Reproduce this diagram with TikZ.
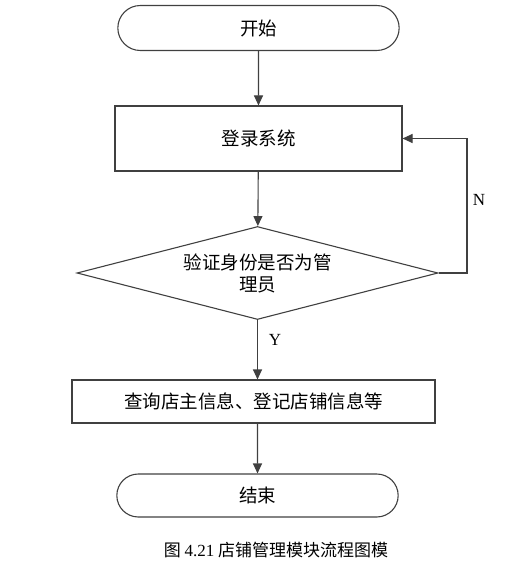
\documentclass[tikz,border=0pt]{standalone}
\usepackage{fontspec}
\setmainfont{Liberation Serif}
\newfontfamily\cjk{Noto Sans CJK SC}
\usetikzlibrary{shapes.geometric,shapes.misc,arrows.meta}

\newcommand\boxfont{\cjk\fontsize{18.5}{22}\selectfont}

\begin{document}
\begin{tikzpicture}[x=1pt,y=-1pt,line width=1.1pt,
        term/.style={rounded rectangle,draw=black!75,minimum width=288pt,minimum height=45pt,font=\boxfont},
        proc/.style={rectangle,draw=black!75,font=\boxfont},
        decide/.style={diamond,draw=black!75,aspect=3.9,inner sep=0pt,minimum width=361pt,minimum height=93pt,align=center,font=\boxfont},
        flow/.style={draw=black!75,-{Triangle[length=10pt,width=9pt]}},
        branch/.style={font=\fontsize{17}{20}\selectfont}]
        \useasboundingbox (0,0) rectangle (530,567);

        \node[term] (start) at (258.5, 28) {开始};
        \node[proc,minimum width=287pt,minimum height=65pt] (login) at (258.5,138.5) {登录系统};
        \node[decide] (check) at (257.5,273) {验证身份是否为管\\理员};
        \node[proc,minimum width=363pt,minimum height=43pt] (info) at (253.5,401.5) {查询店主信息、登记店铺信息等};
        \node[term,minimum height=43pt] (end) at (257.5,495.5) {结束};

        \draw[flow] (start) -- (login);
        \draw[flow] (login) -- (check);
        \draw[flow] (check.south) -- (check.south |- info.north);
        \draw[flow] (info.south -| check.south) -- (end);

        \coordinate (turn) at (467,273);
        \draw[flow] (check.east) -- (turn) |- (login.east);

        \node[branch] (yes) at (275,340) {Y};
        \node[branch] (no)  at (479,200) {N};

        \node (caption) at (276,550) {\cjk\fontsize{17}{20}\selectfont 图 {\rmfamily 4.21} 店铺管理模块流程图模};
    \end{tikzpicture}
\end{document}
